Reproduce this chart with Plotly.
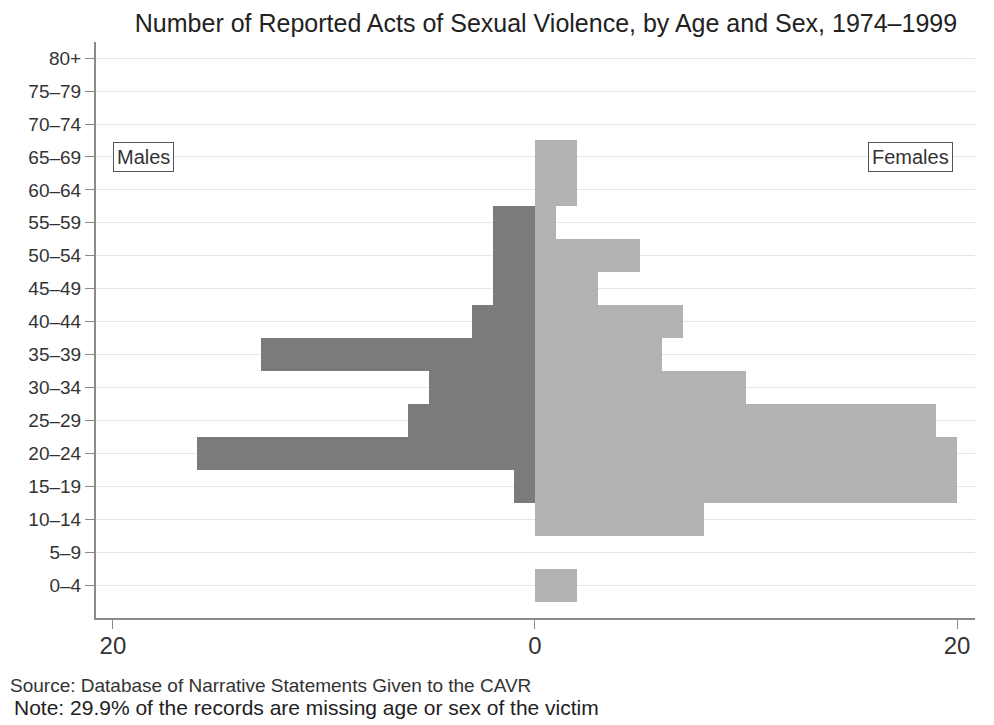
import plotly.graph_objects as go

age_groups = ["0-4", "5-9", "10-14", "15-19", "20-24", "25-29", "30-34", "35-39",
              "40-44", "45-49", "50-54", "55-59", "60-64", "65-69", "70-74", "75-79", "80+"]
age_labels = [a.replace("-", "\u2013") for a in age_groups]
males = [0, 0, 0, 1, 16, 6, 5, 13, 3, 2, 2, 2, 0, 0, 0, 0, 0]
females = [2, 0, 8, 20, 20, 19, 10, 6, 7, 3, 5, 1, 2, 2, 0, 0, 0]
x_tickvals = [-20, 0, 20]
x_ticktext = ["20", "0", "20"]

ypos = list(range(len(age_groups)))
font_family = "Liberation Sans, Arial, Helvetica, sans-serif"

fig = go.Figure()
fig.add_trace(go.Bar(y=ypos, x=[-m for m in males], orientation="h", width=1,
                     marker=dict(color="#7b7b7b", line=dict(width=0)), name="Males",
                     hoverinfo="skip"))
fig.add_trace(go.Bar(y=ypos, x=females, orientation="h", width=1,
                     marker=dict(color="#b2b2b2", line=dict(width=0)), name="Females",
                     hoverinfo="skip"))

fig.update_layout(
    width=986, height=717,
    margin=dict(l=88, r=19, t=34, b=107, autoexpand=False),
    barmode="overlay", bargap=0,
    showlegend=False,
    plot_bgcolor="white", paper_bgcolor="white",
    font=dict(family=font_family, color="#333333"),
    title=dict(text="Number of Reported Acts of Sexual Violence, by Age and Sex, 1974\u20131999",
               x=0.5456, xanchor="center", y=0.9784, yanchor="middle",
               font=dict(size=25, color="#222222")),
    xaxis=dict(range=[-20.8, 20.85], tickvals=x_tickvals, ticktext=x_ticktext,
               automargin=False,
               showgrid=False, zeroline=False, showline=True, linecolor="#8a8a8a",
               linewidth=2, ticks="outside", ticklen=9, tickcolor="#8a8a8a",
               ticklabelstandoff=-4,
               tickfont=dict(size=24, color="#333333")),
    yaxis=dict(range=[-1.0, 16.49], tickvals=ypos, ticktext=age_labels,
               automargin=False,
               showgrid=True, gridcolor="#e6e6e6", gridwidth=1, zeroline=False,
               showline=True, linecolor="#8a8a8a", linewidth=2,
               ticks="outside", ticklen=9, tickcolor="#8a8a8a",
               tickfont=dict(size=19, color="#333333")),
    annotations=[
        dict(x=-18.53, y=13, xref="x", yref="y", text="Males", showarrow=False,
             font=dict(size=20, color="#333333"), bordercolor="#555555",
             borderwidth=1, borderpad=3, bgcolor="white"),
        dict(x=17.77, y=13, xref="x", yref="y", text="Females", showarrow=False,
             font=dict(size=20, color="#333333"), bordercolor="#555555",
             borderwidth=1, borderpad=3, bgcolor="white"),
        dict(x=-0.1, y=-0.118, xref="paper", yref="paper", xanchor="left", yanchor="middle",
             text="Source: Database of Narrative Statements Given to the CAVR", showarrow=False,
             font=dict(size=19, color="#333333")),
        dict(x=-0.0956, y=-0.155, xref="paper", yref="paper", xanchor="left", yanchor="middle",
             text="Note: 29.9% of the records are missing age or sex of the victim", showarrow=False,
             font=dict(size=21, color="#222222")),
    ],
)

fig.write_html("out.html")
